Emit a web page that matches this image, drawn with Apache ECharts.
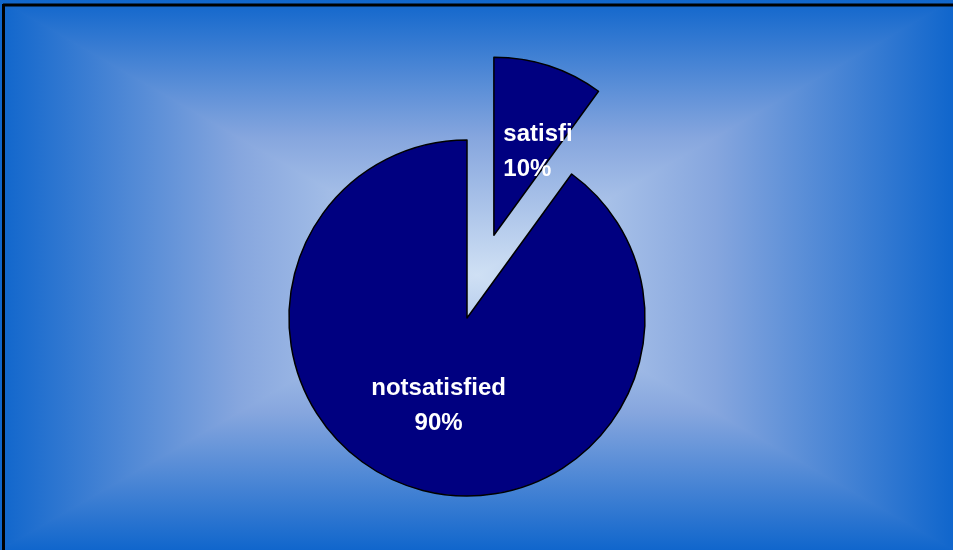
<!DOCTYPE html>
<html>
<head>
<meta charset="utf-8">
<script src="https://cdn.jsdelivr.net/npm/echarts@6/dist/echarts.min.js"></script>
<style>
  html, body { margin: 0; padding: 0; background: #fff; }
  #chart { width: 953px; height: 550px; }
</style>
</head>
<body>
<div id="chart"></div>
<script>
// chart data
var categories = ['satisfied', 'notsatisfied'];
var shares = [10, 90];

var W = 953, H = 550;
var cx = 477, cy = 275;

function grad(x1, y1, x2, y2) {
  return new echarts.graphic.LinearGradient(x1, y1, x2, y2, [
    { offset: 0, color: '#1066cc' },
    { offset: 0.5, color: '#86a6de' },
    { offset: 1, color: '#cfe0f4' }
  ], true);
}

// one triangle of the rectangular gradient, stroked with its own fill so no seam shows
function tri(points, g) {
  return {
    type: 'polygon', z: -10, silent: true,
    shape: { points: points },
    style: { fill: g, stroke: g, lineWidth: 1.5 }
  };
}

var chart = echarts.init(document.getElementById('chart'));

var pieData = [];
for (var i = 0; i < categories.length; i++) {
  var item = { name: categories[i], value: shares[i] };
  if (i == 0) {
    item.selected = true;
    // left aligned lines inside a fixed box, name gets cut at the box edge
    item.label = {
      formatter: '{t|{b}}\n{t|{d}%}',
      width: 84,
      overflow: 'truncate',
      ellipsis: '',
      rich: {
        t: {
          align: 'left',
          color: '#fff',
          fontFamily: 'Liberation Sans, Arial, sans-serif',
          fontWeight: 'bold',
          fontSize: 24,
          lineHeight: 35
        }
      }
    };
  }
  pieData.push(item);
}

var option = {
  animation: false,
  graphic: [
    tri([[0, 0], [W, 0], [cx, cy]], grad(0, 0, 0, cy)),
    tri([[0, H], [W, H], [cx, cy]], grad(0, H, 0, cy)),
    tri([[0, 0], [0, H], [cx, cy]], grad(0, 0, cx, 0)),
    tri([[W, 0], [W, H], [cx, cy]], grad(W, 0, cx, 0)),
    // outer frame (top + left visible)
    { type: 'line', z: 10, silent: true, shape: { x1: 3, y1: 5, x2: W, y2: 5 }, style: { stroke: '#000', lineWidth: 3 } },
    { type: 'line', z: 10, silent: true, shape: { x1: 3.5, y1: 4, x2: 3.5, y2: H }, style: { stroke: '#000', lineWidth: 3 } }
  ],
  series: [{
    type: 'pie',
    center: [467, 318],
    radius: 178,
    startAngle: 90,
    selectedMode: 'single',
    selectedOffset: 87,
    silent: true,
    itemStyle: {
      color: '#000080',
      borderColor: '#000',
      borderWidth: 1.5
    },
    label: {
      show: true,
      position: 'inside',
      color: '#fff',
      fontFamily: 'Liberation Sans, Arial, sans-serif',
      fontWeight: 'bold',
      fontSize: 24,
      lineHeight: 35,
      formatter: '{b}\n{d}%'
    },
    labelLayout: function (params) {
      // nudge the small slice's label to where it sits in the original
      if (params.dataIndex == 0) return { dx: 23, dy: 4 };
      return {};
    },
    labelLine: { show: false },
    emphasis: { disabled: true },
    data: pieData
  }]
};

chart.setOption(option);
</script>
</body>
</html>
